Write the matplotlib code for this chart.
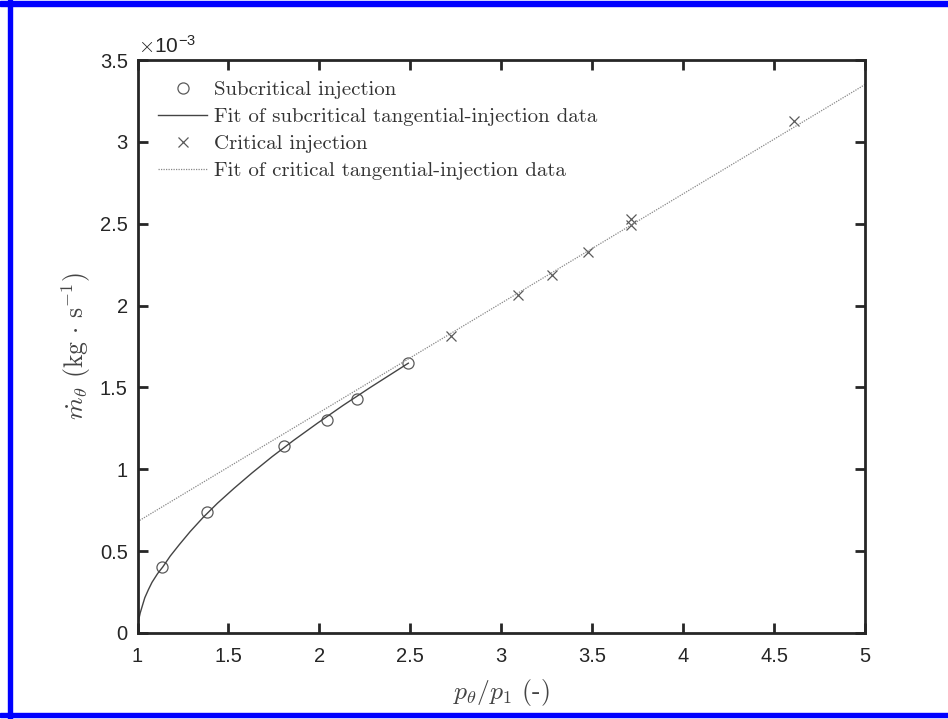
import matplotlib
matplotlib.use("Agg")
import matplotlib.pyplot as plt
from matplotlib.patches import Rectangle

plt.rcParams['mathtext.fontset'] = 'cm'
plt.rcParams['font.family'] = ['Liberation Sans', 'DejaVu Sans']

# Data (mass flow in units of 1e-3 kg/s)
sub_x = [1.137, 1.381, 1.808, 2.044, 2.205, 2.489]
sub_y = [0.404, 0.740, 1.140, 1.299, 1.429, 1.648]

sub_fit_x = [1.0, 1.001, 1.003, 1.007, 1.015, 1.025, 1.04, 1.06, 1.08, 1.11, 1.14,
             1.18, 1.23, 1.29, 1.36, 1.44, 1.53, 1.63, 1.74, 1.86, 1.99, 2.13,
             2.28, 2.489]
sub_fit_y = [0.0, 0.030, 0.054, 0.083, 0.123, 0.160, 0.215, 0.265, 0.310, 0.362,
             0.405, 0.470, 0.540, 0.620, 0.705, 0.793, 0.883, 0.978, 1.077,
             1.178, 1.282, 1.390, 1.500, 1.648]

crit_x = [2.722, 3.090, 3.277, 3.478, 3.716, 3.716, 4.608]
crit_y = [1.813, 2.067, 2.189, 2.325, 2.529, 2.494, 3.128]

crit_fit_x = [1.0, 5.0]
crit_fit_y = [0.68, 3.35]

xticks = [1, 1.5, 2, 2.5, 3, 3.5, 4, 4.5, 5]
xticklabels = ['1', '1.5', '2', '2.5', '3', '3.5', '4', '4.5', '5']
yticks = [0, 0.5, 1, 1.5, 2, 2.5, 3, 3.5]
yticklabels = ['0', '0.5', '1', '1.5', '2', '2.5', '3', '3.5']

fig = plt.figure(figsize=(9.48, 7.19), dpi=100)
ax = fig.add_axes([137.5/948, 1-633/719, (865-137.5)/948, (633-60)/719])

ax.plot(sub_x, sub_y, linestyle='none', marker='o', markersize=8,
        markerfacecolor='none', markeredgecolor='#5a5a5a', markeredgewidth=0.9,
        label='Subcritical injection')
ax.plot(sub_fit_x, sub_fit_y, color='#444444', linewidth=1.0,
        label='Fit of subcritical tangential-injection data')
ax.plot(crit_x, crit_y, linestyle='none', marker='x', markersize=6.5,
        markeredgecolor='#5a5a5a', markeredgewidth=0.9,
        label='Critical injection')
ax.plot(crit_fit_x, crit_fit_y, color='#888888', linewidth=0.9, linestyle=(0, (1, 1)),
        label='Fit of critical tangential-injection data')

ax.set_xlim(1, 5)
ax.set_ylim(0, 3.5)
ax.set_xticks(xticks)
ax.set_xticklabels(xticklabels)
ax.set_yticks(yticks)
ax.set_yticklabels(yticklabels)

for s in ax.spines.values():
    s.set_linewidth(2.0)
    s.set_color('#262626')
ax.tick_params(direction='in', length=7, width=2.0, color='#262626',
               top=True, right=True, labelsize=14.5, labelcolor='#262626', pad=7)
ax.tick_params(axis='x', pad=10)

ax.text(0.0, 1.004, r'$\times$10$^{\mathregular{-3}}$', transform=ax.transAxes,
        fontsize=15, color='#262626', ha='left', va='bottom',
        family=['Liberation Sans', 'DejaVu Sans'])

ax.set_xlabel(r'$p_\theta/p_1$ (-)', fontsize=18.5, color='#444444', labelpad=8,
              family='cmr10')
ax.set_ylabel(r'$\dot{m}_\theta$ (kg$\,\cdot\,$s$^{-1}$)', fontsize=18.5, color='#444444',
              labelpad=5, family='cmr10')

leg = ax.legend(loc='upper left', frameon=False, prop={'family': 'cmr10', 'size': 15},
                handlelength=2.35, handletextpad=0.3, labelspacing=0.4,
                borderaxespad=0.5, borderpad=0.5, bbox_to_anchor=(0.0, 1.0))
for t in leg.get_texts():
    t.set_color('#333333')

# blue frame around the figure
blue = '#0000ff'
fig.patches.append(Rectangle((8/948, 0), 4.5/948, 1, transform=fig.transFigure,
                             color=blue, zorder=10))
fig.patches.append(Rectangle((0, 1-6/719), 1, 5/719, transform=fig.transFigure,
                             color=blue, zorder=10))
fig.patches.append(Rectangle((0, 1-717/719), 1, 4.5/719, transform=fig.transFigure,
                             color=blue, zorder=10))

fig.savefig('out.png', dpi=100)
